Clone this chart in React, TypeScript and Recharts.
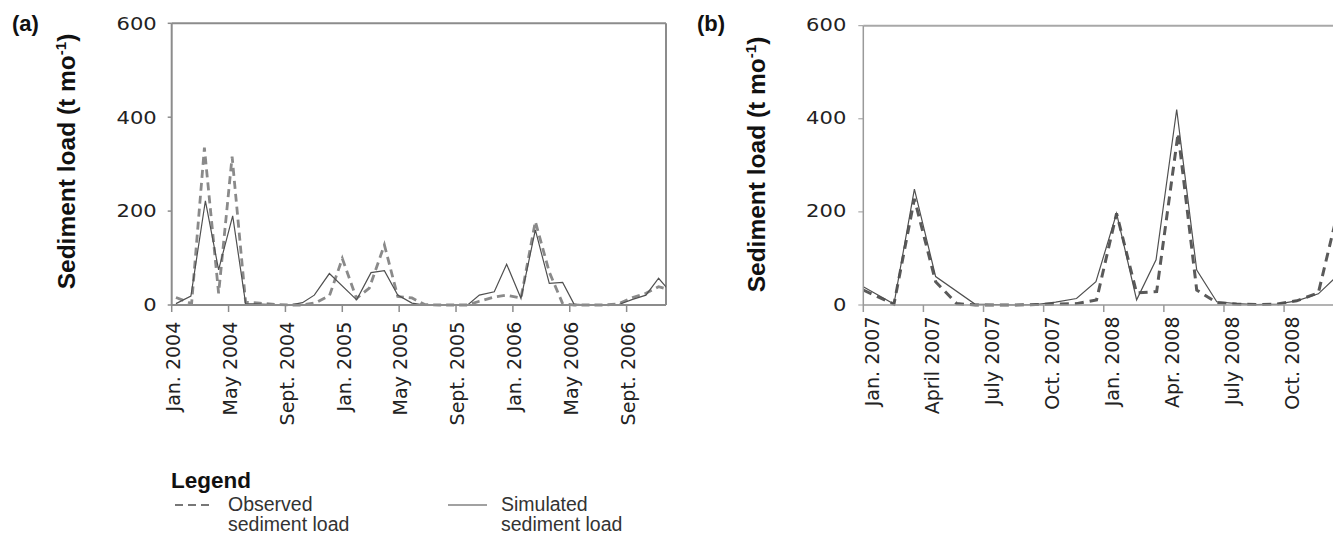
import React from 'react';
import { LineChart, Line, XAxis, YAxis, ReferenceLine } from 'recharts';

// ---------- Panel (a): Jan 2004 – Dec 2006 (x = months since Jan 2004) ----------
const obsAX = [0.3, 1.4, 2.3, 3.3, 4.25, 5.2, 6.2, 7.3, 8.3, 9.2, 10.15, 11.1, 12.0, 13.0, 13.9, 14.96, 15.9, 16.9, 17.8, 18.8, 19.8, 20.82, 21.64, 22.69, 23.56, 24.57, 25.58, 26.56, 27.5, 28.3, 29.4, 30.4, 31.37, 32.42, 33.36, 34.25, 35.3];
const obsAY = [16, 3, 335, 25, 316, 6, 4, 1, 0, 0, 5, 20, 99, 14, 36, 128, 18, 15, 1, 0, 0, 0, 8, 17, 21, 15, 178, 70, 3, 0, 0, 0, 2, 16, 25, 39, 30];
const simAX = [0.3, 1.35, 2.37, 3.3, 4.29, 5.2, 6.2, 7.3, 8.3, 9.2, 10.03, 11.09, 13.01, 14.02, 14.96, 15.9, 16.9, 17.8, 18.8, 19.8, 20.82, 21.64, 22.69, 23.56, 24.57, 25.58, 26.56, 27.5, 28.3, 29.4, 30.4, 31.37, 32.42, 33.36, 34.25, 35.3];
const simAY = [3, 19, 222, 75, 190, 3, 2, 1, 0, 5, 21, 67, 11, 69, 73, 21, 4, 0, 0, 0, 0, 21, 28, 87, 14, 160, 46, 48, 2, 0, 0, 0, 12, 21, 57, 20];
const ticksA = [0, 4, 8, 12, 16, 20, 24, 28, 32];
const tickLabelsA = ['Jan. 2004', 'May 2004', 'Sept. 2004', 'Jan. 2005', 'May 2005', 'Sept. 2005', 'Jan. 2006', 'May 2006', 'Sept. 2006'];
const domainMaxA = 34.77;

// ---------- Panel (b): Jan 2007 – Dec 2008 (x = months since Jan 2007) ----------
const obsBX = [0, 1.53, 2.55, 3.61, 4.66, 5.6, 6.6, 7.6, 8.6, 9.6, 10.64, 11.64, 12.64, 13.64, 14.64, 15.71, 16.64, 17.64, 18.64, 19.64, 20.64, 21.63, 22.71, 23.7];
const obsBY = [32, 2, 228, 50, 3, 0, 0, 0, 1, 2, 3, 11, 197, 26, 29, 369, 32, 5, 2, 1, 2, 9, 26, 204];
const simBX = [0, 1.53, 2.55, 3.61, 5.57, 6.6, 7.6, 8.6, 9.6, 10.64, 11.61, 12.64, 13.64, 14.61, 15.64, 16.64, 17.64, 18.64, 19.63, 20.64, 21.63, 22.71, 23.78];
const simBY = [39, 2, 249, 61, 2, 1, 0, 1, 6, 14, 50, 197, 11, 97, 420, 75, 7, 3, 1, 2, 9, 24, 68];
const ticksB = [0, 3, 6, 9, 12, 15, 18, 21];
const tickLabelsB = ['Jan. 2007', 'April 2007', 'July 2007', 'Oct. 2007', 'Jan. 2008', 'Apr. 2008', 'July 2008', 'Oct. 2008'];
const domainMaxB = 23.84;

const yTicks = [0, 200, 400, 600];
const yLabel = 'Sediment load (t mo';

const toData = (xs: number[], ys: number[]) => xs.map((x, i) => ({ x, y: ys[i] }));

const TICK_FONT = '"DejaVu Sans", Verdana, sans-serif';
const SANS = '"Liberation Sans", Arial, sans-serif';

function XTick(props: any) {
  const { x, y, payload, ticks, labels, shift } = props;
  const idx = ticks.indexOf(payload.value);
  const label = idx >= 0 ? labels[idx] : '';
  return (
    <text
      transform={`translate(${x},${y}) rotate(-90)`}
      textAnchor="end"
      dy={shift}
      fontFamily={TICK_FONT}
      fontSize={19}
      fill="#222"
    >
      {label}
    </text>
  );
}

function YTick(props: any) {
  const { x, y, payload, dyPx } = props;
  const s = String(payload.value);
  return (
    <text
      x={x}
      y={y}
      dy={dyPx}
      textAnchor="end"
      fontFamily={TICK_FONT}
      fontSize={18}
      fill="#222"
      textLength={s.length * 13.4}
      lengthAdjust="spacingAndGlyphs"
    >
      {s}
    </text>
  );
}

function YAxisTitle({ cx, cy }: { cx: number; cy: number }) {
  return (
    <text
      transform={`translate(${cx},${cy}) rotate(-90)`}
      textAnchor="middle"
      dy="0.35em"
      fontFamily={SANS}
      fontWeight="bold"
      fontSize={24.5}
      fill="#111"
    >
      {yLabel}
      <tspan fontSize={15} dy={-9}>-1</tspan>
      <tspan dy={9}>)</tspan>
    </text>
  );
}

export default function App() {
  const borderA = '#8c8c8c';
  const borderB = '#9a9a9a';
  return (
    <div
      style={{
        position: 'relative',
        width: 1341,
        height: 540,
        margin: '-8px 0 -8px -8px',
        overflow: 'hidden',
        background: '#fff',
      }}
    >
      {/* Panel (a) */}
      <div style={{ position: 'absolute', left: 0, top: 0 }}>
        <LineChart width={700} height={540} margin={{ top: 23.3, right: 34, bottom: 205, left: 111.7 }}>
          <XAxis
            type="number"
            dataKey="x"
            domain={[0, domainMaxA]}
            allowDataOverflow
            ticks={ticksA}
            interval={0}
            height={30}
            tickSize={7}
            tickMargin={9.7}
            axisLine={{ stroke: borderA, strokeWidth: 2 }}
            tickLine={{ stroke: borderA, strokeWidth: 1.5 }}
            tick={(p: any) => <XTick {...p} ticks={ticksA} labels={tickLabelsA} shift={8.3} />}
          />
          <YAxis
            type="number"
            domain={[0, 600]}
            ticks={yTicks}
            interval={0}
            width={60}
            tickSize={4}
            tickMargin={11}
            axisLine={{ stroke: borderA, strokeWidth: 2 }}
            tickLine={{ stroke: borderA, strokeWidth: 1.5 }}
            tick={(p: any) => <YTick {...p} dyPx={6.3} />}
          />
          <ReferenceLine y={600} stroke={borderA} strokeWidth={2} />
          <ReferenceLine x={domainMaxA} stroke={borderA} strokeWidth={2} />
          <Line
            data={toData(obsAX, obsAY)}
            dataKey="y"
            type="linear"
            stroke="#8a8a8a"
            strokeWidth={2.8}
            strokeDasharray="8 5"
            dot={false}
            activeDot={false}
            isAnimationActive={false}
          />
          <Line
            data={toData(simAX, simAY)}
            dataKey="y"
            type="linear"
            stroke="#505050"
            strokeWidth={1.2}
            dot={false}
            activeDot={false}
            isAnimationActive={false}
          />
        </LineChart>
      </div>

      {/* Panel (b) */}
      <div style={{ position: 'absolute', left: 700, top: 0 }}>
        <LineChart width={641} height={540} margin={{ top: 25.7, right: 0, bottom: 205, left: 103.3 }}>
          <XAxis
            type="number"
            dataKey="x"
            domain={[0, domainMaxB]}
            allowDataOverflow
            ticks={ticksB}
            interval={0}
            height={30}
            tickSize={7}
            tickMargin={4.5}
            axisLine={{ stroke: borderB, strokeWidth: 1.5 }}
            tickLine={{ stroke: borderB, strokeWidth: 1.5 }}
            tick={(p: any) => <XTick {...p} ticks={ticksB} labels={tickLabelsB} shift={15.3} />}
          />
          <YAxis
            type="number"
            domain={[0, 600]}
            ticks={yTicks}
            interval={0}
            width={60}
            tickSize={5}
            tickMargin={12}
            axisLine={{ stroke: borderB, strokeWidth: 1.5 }}
            tickLine={{ stroke: borderB, strokeWidth: 1 }}
            tick={(p: any) => <YTick {...p} dyPx={5.5} />}
          />
          <ReferenceLine y={600} stroke="#a8a8a8" strokeWidth={2} />
          <Line
            data={toData(obsBX, obsBY)}
            dataKey="y"
            type="linear"
            stroke="#5a5a5a"
            strokeWidth={3}
            strokeDasharray="9 6"
            dot={false}
            activeDot={false}
            isAnimationActive={false}
          />
          <Line
            data={toData(simBX, simBY)}
            dataKey="y"
            type="linear"
            stroke="#505050"
            strokeWidth={1.2}
            dot={false}
            activeDot={false}
            isAnimationActive={false}
          />
        </LineChart>
      </div>

      {/* Labels and legend */}
      <svg
        width={1341}
        height={540}
        style={{ position: 'absolute', left: 0, top: 0, pointerEvents: 'none' }}
      >
        <text x={12} y={30.6} fontFamily={SANS} fontWeight="bold" fontSize={22} fill="#111">(a)</text>
        <text x={697} y={30.6} fontFamily={SANS} fontWeight="bold" fontSize={22} fill="#111">(b)</text>
        <YAxisTitle cx={66.7} cy={161.5} />
        <YAxisTitle cx={756} cy={164.5} />

        <text x={171} y={487.5} fontFamily={SANS} fontWeight="bold" fontSize={22.5} fill="#111">Legend</text>
        <line x1={175} y1={505} x2={213} y2={505} stroke="#777" strokeWidth={2} strokeDasharray="8 5" />
        <text x={228} y={511} fontFamily={SANS} fontSize={19.5} fill="#333">Observed</text>
        <text x={228} y={531} fontFamily={SANS} fontSize={19.5} fill="#333">sediment load</text>
        <line x1={448} y1={505} x2={487} y2={505} stroke="#444" strokeWidth={1.2} />
        <text x={501} y={511} fontFamily={SANS} fontSize={19.5} fill="#333">Simulated</text>
        <text x={501} y={531} fontFamily={SANS} fontSize={19.5} fill="#333">sediment load</text>
      </svg>
    </div>
  );
}
